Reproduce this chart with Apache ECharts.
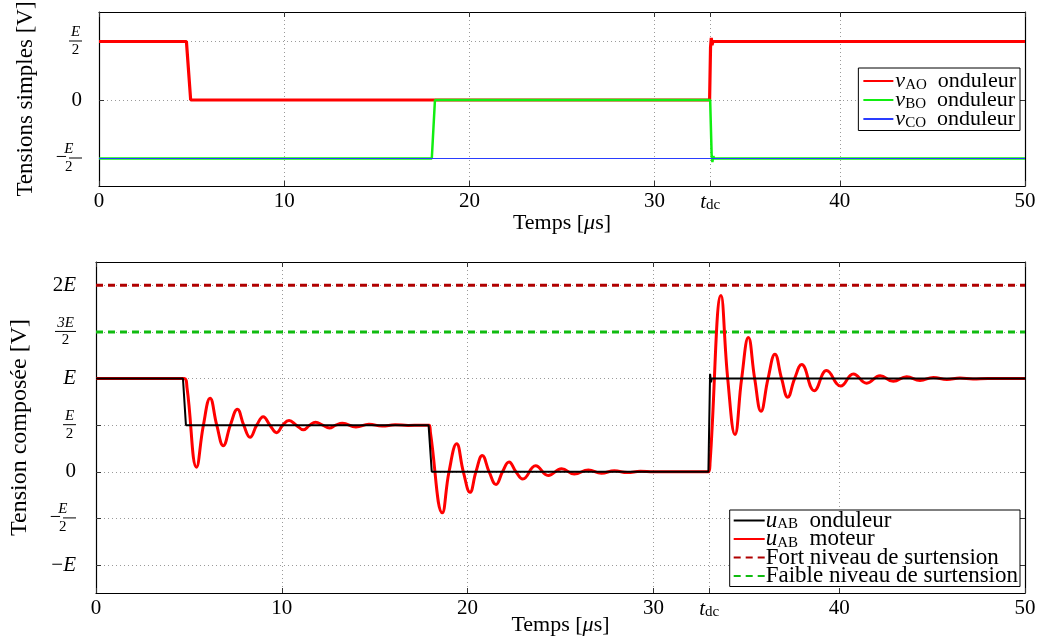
<!DOCTYPE html>
<html><head><meta charset="utf-8">
<script src="https://cdn.jsdelivr.net/npm/echarts@6/dist/echarts.min.js"></script>
<style>html,body{margin:0;padding:0;background:#fff}#c{width:1038px;height:637px}</style>
</head><body><div id="c"></div>
<script>
// ---- data (voltages in units of E, time in microseconds) ----
const T_DC = 33;
const xTicks = [0, 10, 20, 30, T_DC, 40, 50];
const yTicksTop = [-0.5, 0, 0.5];
const yTicksBottom = [-1, -0.5, 0, 0.5, 1, 1.5, 2];

const tAO = [0, 4.72, 4.95, 32.97, 33.02, 33.06, 33.1, 33.15, 50];
const vAO = [0.5, 0.5, 0, 0, 0.45, 0.53, 0.47, 0.5, 0.5];
const tBO = [0, 17.97, 18.14, 33.0, 33.08, 33.12, 33.17, 33.22, 50];
const vBO = [-0.5, -0.5, 0, 0, -0.47, -0.53, -0.48, -0.5, -0.5];
const tCO = [0, 50];
const vCO = [-0.5, -0.5];

const tOnd = [0, 4.68, 4.84, 17.9, 18.07, 32.96, 33.05, 33.1, 33.14, 50];
const uOnd = [1, 1, 0.5, 0.5, 0, 0, 1.05, 0.96, 1, 1];

const tMot = [0, 4.75, 4.9, 5.41, 5.78, 6.14, 6.5, 6.85, 7.23, 7.61, 7.95, 8.29, 8.65, 9.0, 9.36, 9.72, 10.05, 10.39, 10.78, 11.16, 11.5, 11.82, 12.2, 12.56, 12.9, 13.26, 13.99, 14.69, 15.4, 16.1, 16.8, 17.5, 17.93,
  18.0, 18.64, 19.0, 19.41, 19.77, 20.13, 20.45, 20.79, 21.16, 21.53, 21.88, 22.23, 22.6, 22.97, 23.66, 24.34, 25.06, 25.74, 26.5, 27.2, 27.9, 28.6, 29.3, 30.0, 32.97,
  33.05, 33.64, 34.0, 34.39, 34.75, 35.11, 35.45, 35.79, 36.17, 36.54, 36.9, 37.23, 37.6, 37.98, 38.66, 39.32, 40.08, 40.76, 41.48, 42.2, 42.91, 43.63, 44.35, 45.07, 45.8, 46.5, 47.2, 48, 50];
const uMot = [1, 1, 0.9, 0.05, 0.5, 0.79, 0.5, 0.28, 0.5, 0.67, 0.5, 0.37, 0.5, 0.59, 0.5, 0.42, 0.5, 0.55, 0.5, 0.45, 0.5, 0.53, 0.5, 0.47, 0.5, 0.52, 0.48, 0.51, 0.49, 0.505, 0.497, 0.5, 0.5,
  0.42, -0.44, 0, 0.30, 0, -0.22, 0, 0.175, 0, -0.136, 0, 0.104, 0, -0.078, 0.064, -0.04, 0.032, -0.025, 0.02, -0.015, 0.01, -0.008, 0.005, 0, 0,
  0.1, 1.89, 1, 0.40, 1, 1.44, 1, 0.65, 1, 1.26, 1, 0.80, 1, 1.15, 0.87, 1.085, 0.92, 1.05, 0.95, 1.03, 0.97, 1.02, 0.98, 1.012, 0.99, 1.006, 0.996, 1, 1];

const tFull = [0, 50];
const fort = [2, 2];
const faible = [1.5, 1.5];

const zip = (a, b) => a.map((v, i) => [v, b[i]]);

// ---- styles ----
const FONT = 'Liberation Serif';
const fracRich = {
  n: {fontFamily: FONT, fontStyle: 'italic', fontSize: 15, width: 13, align: 'center', lineHeight: 14},
  n2: {fontFamily: FONT, fontStyle: 'italic', fontSize: 15, width: 21, align: 'center', lineHeight: 14},
  bar: {fontSize: 1, width: 13, height: 1, lineHeight: 3, backgroundColor: '#000'},
  bar2: {fontSize: 1, width: 21, height: 1, lineHeight: 3, backgroundColor: '#000'},
  d: {fontFamily: FONT, fontSize: 15, width: 13, align: 'center', lineHeight: 15},
  d2: {fontFamily: FONT, fontSize: 15, width: 21, align: 'center', lineHeight: 15},
  m: {fontFamily: FONT, fontSize: 20, lineHeight: 3, padding: [0, 2, 0, 0]},
  it: {fontFamily: FONT, fontStyle: 'italic', fontSize: 21},
  rm: {fontFamily: FONT, fontSize: 21},
  t: {fontFamily: FONT, fontStyle: 'italic', fontSize: 21},
  s: {fontFamily: FONT, fontSize: 15, padding: [7, 0, 0, 0]}
};
function yFmt(v) {
  if (v === 0) return '{rm|0}';
  if (v === 0.5) return '{n|E}\n{bar| }\n{d|2}';
  if (v === -0.5) return '{n|E}\n{m|−}{bar| }\n{d|2}';
  if (v === 1) return '{it|E}';
  if (v === -1) return '{rm|−}{it|E}';
  if (v === 1.5) return '{n2|3E}\n{bar2| }\n{d2|2}';
  if (v === 2) return '{rm|2}{it|E}';
  return String(v);
}
function xFmt(v) {
  if (v === T_DC) return '{t|t}{s|dc}';
  return '{rm|' + v + '}';
}
const gridLine = {show: true, lineStyle: {color: '#9a9a9a', type: [1, 3], width: 1}};
const axLine = {show: true, onZero: false, lineStyle: {color: '#000', width: 1.2}};
const tick = (vals) => ({show: true, inside: true, length: 5, customValues: vals, lineStyle: {color: '#333', width: 1}});
const xNameStyle = {fontFamily: FONT, fontSize: 22, color: '#000', rich: {
  rm: {fontFamily: FONT, fontSize: 22}, mu: {fontFamily: FONT, fontStyle: 'italic', fontSize: 22}}};
const xName = '{rm|Temps [}{mu|μ}{rm|s]}';

function xAxes(gi, nameGap) {
  return [
    {type: 'value', gridIndex: gi, min: 0, max: 50, position: 'bottom',
     axisLine: axLine, axisTick: tick(xTicks), splitLine: gridLine,
     axisLabel: {customValues: xTicks, formatter: xFmt, color: '#000', margin: 5, rich: fracRich},
     name: xName, nameLocation: 'middle', nameGap: nameGap, nameMoveOverlap: false, nameTextStyle: xNameStyle},
    {type: 'value', gridIndex: gi, min: 0, max: 50, position: 'top',
     axisLine: axLine, axisTick: tick(xTicks), splitLine: {show: false}, axisLabel: {show: false}}
  ];
}
function yAxes(gi, min, max, ticks, name, nameGap, margin, nameSize) {
  return [
    {type: 'value', gridIndex: gi, min: min, max: max, position: 'left',
     axisLine: axLine, axisTick: tick(ticks), splitLine: gridLine,
     axisLabel: {customValues: ticks, formatter: yFmt, color: '#000', margin: margin, rich: fracRich},
     name: name, nameLocation: 'middle', nameRotate: 90, nameGap: nameGap, nameMoveOverlap: false,
     nameTextStyle: {fontFamily: FONT, fontSize: nameSize, color: '#000'}},
    {type: 'value', gridIndex: gi, min: min, max: max, position: 'right',
     axisLine: axLine, axisTick: tick(ticks), splitLine: {show: false}, axisLabel: {show: false}}
  ];
}

const mkRich = (size) => ({
  i: {fontFamily: FONT, fontStyle: 'italic', fontSize: size, color: '#000'},
  sub: {fontFamily: FONT, fontSize: 15, color: '#000', padding: [8, 0, 0, 0]},
  r: {fontFamily: FONT, fontSize: size, color: '#000'}
});

const chart = echarts.init(document.getElementById('c'), null, {renderer: 'canvas'});
chart.setOption({
  animation: false,
  backgroundColor: '#fff',
  grid: [
    {left: 99, right: 13, top: 12, height: 174, outerBoundsMode: 'none', containLabel: false},
    {left: 96, right: 13, top: 262, height: 331, outerBoundsMode: 'none', containLabel: false}
  ],
  xAxis: [...xAxes(0, 26), ...xAxes(1, 21)],
  yAxis: [
    ...yAxes(0, -0.735, 0.752, yTicksTop, 'Tensions simples [V]', 62, 17, 23),
    ...yAxes(1, -1.3, 2.25, yTicksBottom, 'Tension composée [V]', 64, 20, 24)
  ],
  legend: [
    {top: 68, right: 18, orient: 'vertical', itemGap: -3.5, itemWidth: 30, itemHeight: 19,
     backgroundColor: '#fff', borderColor: '#000', borderWidth: 1, borderRadius: 0, padding: [2, 4, 0, 4],
     itemStyle: {opacity: 0},
     data: ['vAO', 'vBO', 'vCO'],
     formatter: n => '{i|v}{sub|' + n.slice(1) + '}{r|  onduleur}',
     textStyle: {rich: mkRich(22), padding: [0, 0, 0, -3]}},
    {top: 510, right: 18, orient: 'vertical', itemGap: -4.5, itemWidth: 31, itemHeight: 18,
     backgroundColor: '#fff', borderColor: '#000', borderWidth: 1, borderRadius: 0, padding: [-1, 2, -1, 3],
     itemStyle: {opacity: 0},
     data: ['uOnd', 'uMot', 'fort', 'faible'],
     formatter: n => ({
       uOnd: '{i|u}{sub|AB}{r|  onduleur}',
       uMot: '{i|u}{sub|AB}{r|  moteur}',
       fort: '{r|Fort niveau de surtension}',
       faible: '{r|Faible niveau de surtension}'
     })[n],
     textStyle: {rich: mkRich(23), padding: [0, 0, 0, -4]}}
  ],
  series: [
    {name: 'vCO', type: 'line', xAxisIndex: 0, yAxisIndex: 0, data: zip(tCO, vCO), symbol: 'none', z: 5,
     lineStyle: {color: '#2a3cff', width: 1.2}, itemStyle: {color: '#2a3cff'}},
    {name: 'vBO', type: 'line', xAxisIndex: 0, yAxisIndex: 0, data: zip(tBO, vBO), symbol: 'none', z: 4,
     lineStyle: {color: '#11ee11', width: 2.5}, itemStyle: {color: '#11ee11'}},
    {name: 'vAO', type: 'line', xAxisIndex: 0, yAxisIndex: 0, data: zip(tAO, vAO), symbol: 'none', z: 3,
     lineStyle: {color: '#ff0000', width: 3.2}, itemStyle: {color: '#ff0000'}},

    {name: 'fort', type: 'line', xAxisIndex: 2, yAxisIndex: 2, data: zip(tFull, fort), symbol: 'none', z: 2,
     lineStyle: {color: '#b00000', width: 3, type: [7, 5]}, itemStyle: {color: '#b00000'}},
    {name: 'faible', type: 'line', xAxisIndex: 2, yAxisIndex: 2, data: zip(tFull, faible), symbol: 'none', z: 2,
     lineStyle: {color: '#10bb10', width: 3, type: [7, 5]}, itemStyle: {color: '#10bb10'}},
    {name: 'uMot', type: 'line', xAxisIndex: 2, yAxisIndex: 2, data: zip(tMot, uMot), symbol: 'none', z: 3,
     smooth: 0.45, lineStyle: {color: '#ff0000', width: 3}, itemStyle: {color: '#ff0000'}},
    {name: 'uOnd', type: 'line', xAxisIndex: 2, yAxisIndex: 2, data: zip(tOnd, uOnd), symbol: 'none', z: 4,
     lineStyle: {color: '#000', width: 2}, itemStyle: {color: '#000'}}
  ]
});
</script>
</body></html>
